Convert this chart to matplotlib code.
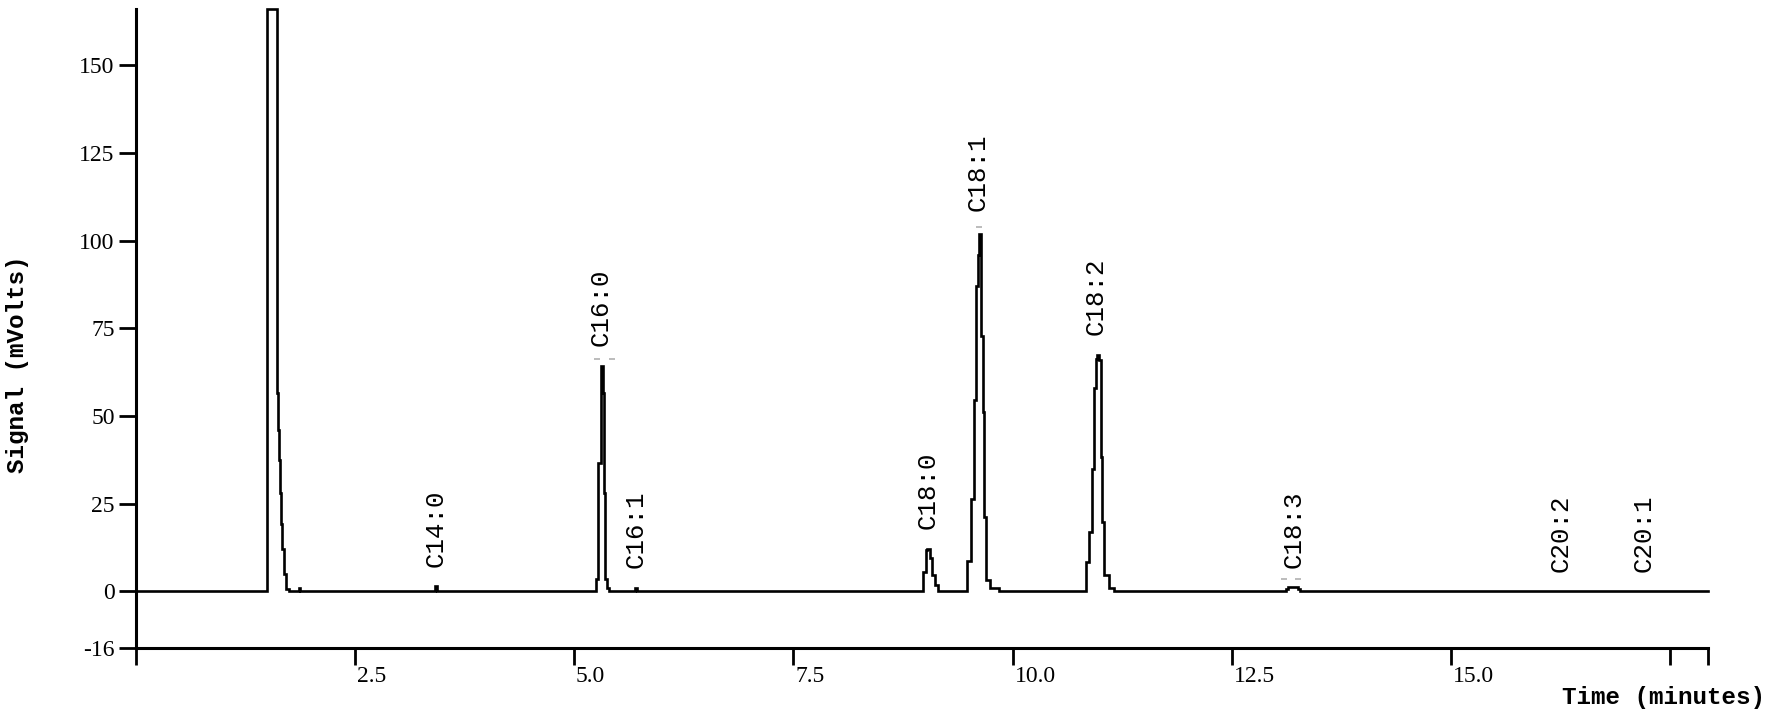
import matplotlib
matplotlib.use("Agg")
import matplotlib.pyplot as plt
from matplotlib import transforms

# ---- data ----
trace_time = [0.00, 1.50, 1.50, 1.612, 1.625, 1.640, 1.650, 1.662, 1.673, 1.690, 1.710, 1.750,
              1.840, 1.860, 1.880,
              3.400, 3.415, 3.440,
              5.236, 5.248, 5.275, 5.305, 5.330, 5.338, 5.355, 5.370, 5.400,
              5.700, 5.720,
              8.983, 9.010, 9.030, 9.060, 9.085, 9.110, 9.150,
              9.485, 9.527, 9.557, 9.580, 9.603, 9.612, 9.640, 9.660, 9.675, 9.700, 9.740, 9.840,
              10.835, 10.873, 10.904, 10.934, 10.949, 10.960, 10.987, 11.006, 11.025, 11.048,
              11.094, 11.151,
              13.120, 13.140, 13.250, 13.280,
              17.93]
trace_signal = [0.0, 0.0, 166.0, 56.5, 46.0, 37.5, 28.0, 19.3, 12.0, 5.0, 0.7, 0.0,
                0.0, 1.0, 0.0,
                0.0, 1.5, 0.0,
                0.0, 3.5, 36.5, 64.2, 56.5, 27.9, 3.5, 0.9, 0.0,
                1.0, 0.0,
                5.4, 11.7, 12.2, 9.4, 4.6, 1.7, 0.0,
                8.8, 26.4, 54.6, 87.1, 96.0, 101.8, 72.8, 51.1, 21.2, 3.1, 1.0, 0.0,
                8.3, 16.9, 35.0, 58.0, 66.1, 67.5, 66.0, 38.3, 19.7, 4.6,
                1.0, 0.0,
                0.6, 1.2, 0.6, 0.0,
                0.0]

peak_names = ["C14:0", "C16:0", "C16:1", "C18:0", "C18:1", "C18:2", "C18:3", "C20:2", "C20:1"]
peak_times = [3.42, 5.30, 5.70, 9.03, 9.60, 10.95, 13.20, 16.25, 17.19]
peak_heights = [1.5, 64.5, 1.0, 12.2, 103.0, 67.5, 1.2, 0.0, 0.0]

marker_times = [5.26, 5.43, 9.62, 13.10, 13.26]
marker_values = [66.3, 66.3, 103.8, 3.5, 3.5]

y_ticks = [150, 125, 100, 75, 50, 25, 0, -16]
y_tick_labels = ["150", "125", "100", "75", "50", "25", "0", "-16"]
x_ticks = [0.0, 2.5, 5.0, 7.5, 10.0, 12.5, 15.0, 17.5, 17.93]
x_tick_labels = ["", "2.5", "5.0", "7.5", "10.0", "12.5", "15.0", "", ""]

# ---- figure ----
fig = plt.figure(figsize=(17.72, 7.15), dpi=100)
ax = fig.add_axes([0.0765, 0.0944, 0.8874, 0.893])

ax.plot(trace_time, trace_signal, drawstyle="steps-post", color="black", lw=1.9,
        solid_joinstyle="miter", clip_on=False)
ax.plot(marker_times, marker_values, linestyle="none", marker="_", markersize=4,
        color="#b0b0b0", mew=1.2)

for name, t, h in zip(peak_names, peak_times, peak_heights):
    ax.annotate(name, xy=(t, h), xytext=(0, 14), textcoords="offset points",
                rotation=90, ha="center", va="bottom", fontsize=18.5,
                family="Liberation Mono", color="black")

ax.set_xlim(0, 17.93)
ax.set_ylim(-16, 166)

for s in ["top", "right"]:
    ax.spines[s].set_visible(False)
ax.spines["left"].set_linewidth(2.2)
ax.spines["bottom"].set_linewidth(2.2)

ax.set_yticks(y_ticks)
ax.set_yticklabels(y_tick_labels, family="Liberation Serif", fontsize=17)
ax.set_xticks(x_ticks)
ax.set_xticklabels(x_tick_labels, family="Liberation Serif", fontsize=17)
ax.tick_params(axis="y", direction="out", length=12, width=2, pad=3)
ax.tick_params(axis="x", direction="out", length=12, width=2, pad=1)
offset = transforms.ScaledTranslation(2 / 100, 0, fig.dpi_scale_trans)
for lab in ax.get_xticklabels():
    lab.set_horizontalalignment("left")
    lab.set_transform(lab.get_transform() + offset)

fig.text(0.010, 0.49, "Signal (mVolts)", rotation=90, ha="center", va="center",
         family="Liberation Mono", fontweight="bold", fontsize=17.5)
fig.text(0.996, 0.025, "Time (minutes)", ha="right", va="center",
         family="Liberation Mono", fontweight="bold", fontsize=17.5)

fig.savefig("out.png", dpi=100)
